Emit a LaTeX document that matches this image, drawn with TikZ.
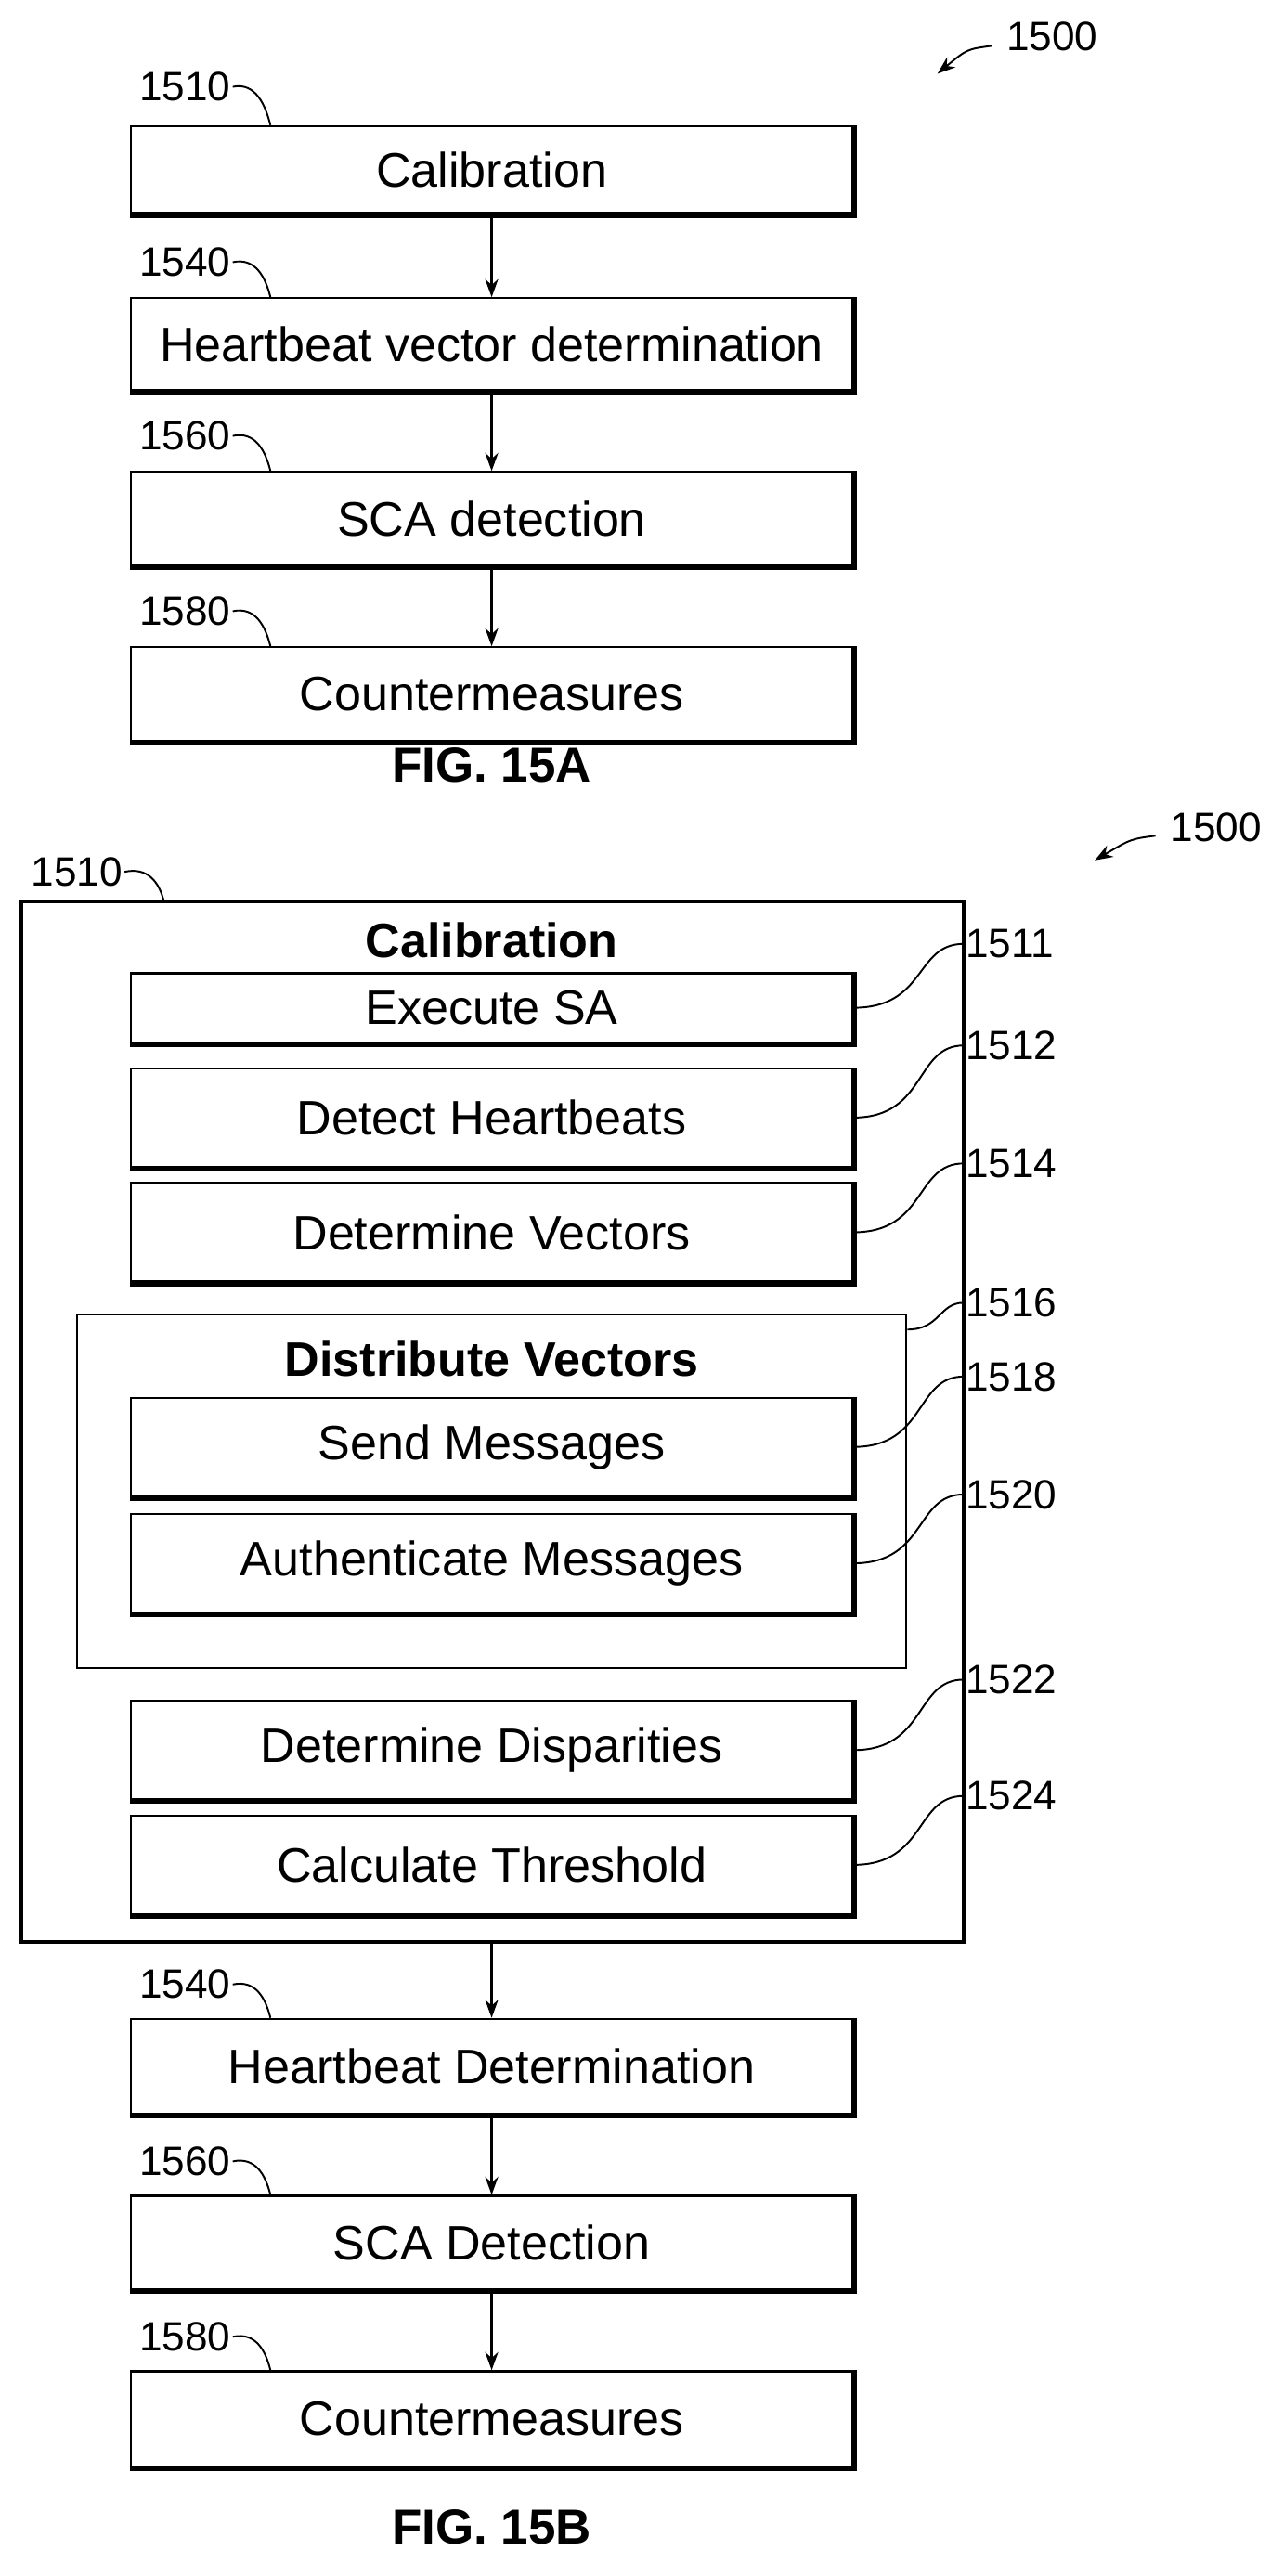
\documentclass[tikz,border=0pt]{standalone}
\usepackage{fontspec}
\setmainfont{Liberation Sans}
\usetikzlibrary{arrows.meta}
\begin{document}
\begin{tikzpicture}[x=1pt,y=-1pt,
  box/.style={draw,line width=1.3pt,minimum width=440pt,inner sep=0pt,font=\fontsize{29.5}{34}\selectfont},
  lbl/.style={font=\fontsize{25}{30}\selectfont,inner sep=1pt},
  lead/.style={line width=1.1pt},
  arr/.style={line width=1.3pt,-{Stealth[length=11pt,width=8pt]}},
  fig/.style={font=\bfseries\fontsize{30}{35}\selectfont}]
\useasboundingbox (0,0) rectangle (783,1572);
\newcommand{\shd}[1]{\draw[line width=2.6pt] ([xshift=1pt]#1.north east)--([xshift=1pt,yshift=-1pt]#1.south east)--([yshift=-1pt]#1.south west);}
% ---------- FIG 15A ----------
\node[lbl] (r1500a) at (642,22) {1500};
\coordinate (a1500a) at (572,45);
\draw[arr,line width=1.1pt] (605,28) .. controls (590,30) .. (a1500a);
\node[box,minimum height=53pt] (A1) at (300,103.5) {Calibration};
\node[box,minimum height=56pt] (A2) at (300,210) {Heartbeat vector determination};
\node[box,minimum height=57pt] (A3) at (300,316.5) {SCA detection};
\node[box,minimum height=57pt] (A4) at (300,423.5) {Countermeasures};
\foreach \n in {A1,A2,A3,A4}{\shd{\n}}
\draw[arr] (A1.south)--(A2.north);
\draw[arr] (A2.south)--(A3.north);
\draw[arr] (A3.south)--(A4.north);
\foreach \t/\n/\y in {1510/A1/53,1540/A2/160,1560/A3/266,1580/A4/373}{
  \node[lbl,anchor=east] (l\t a) at (142,\y) {\t};
  \draw[lead] (l\t a.east) .. controls +(14,-3) and +(-3,-12) .. ([xshift=-135pt]\n.north);
}
\node[fig] (figa) at (300,467) {FIG. 15A};
% ---------- FIG 15B ----------
\node[lbl] (r1500b) at (742,505) {1500};
\coordinate (a1500b) at (668,525);
\draw[arr,line width=1.1pt] (705,510) .. controls (690,512) .. (a1500b);
\node[draw,line width=2.4pt,minimum width=575pt,minimum height=635pt,inner sep=0pt] (outer) at (300.5,867.5) {};
\node[lbl,anchor=east] (l1510b) at (76,532) {1510};
\draw[lead] (l1510b.east) .. controls +(14,-3) and +(-3,-12) .. (100,550);
\node[font=\bfseries\fontsize{29.5}{34}\selectfont] (tcal) at (300,574) {Calibration};
\node[box,minimum height=42pt] (B1) at (300,615) {Execute SA};
\node[box,minimum height=60pt] (B2) at (300,682) {Detect Heartbeats};
\node[box,minimum height=60pt] (B3) at (300,752) {Determine Vectors};
\node[draw,line width=1.3pt,minimum width=506pt,minimum height=216pt,inner sep=0pt] (dist) at (300,910) {};
\node[font=\bfseries\fontsize{29.5}{34}\selectfont] (tdist) at (300,829) {Distribute Vectors};
\node[box,minimum height=60pt] (B4) at (300,883) {Send Messages};
\node[box,minimum height=60pt] (B5) at (300,954) {Authenticate Messages};
\node[box,minimum height=60pt] (B6) at (300,1068) {Determine Disparities};
\node[box,minimum height=60pt] (B7) at (300,1138) {Calculate Threshold};
\node[box,minimum height=58pt] (C1) at (300,1261) {Heartbeat Determination};
\node[box,minimum height=57pt] (C2) at (300,1368.5) {SCA Detection};
\node[box,minimum height=58pt] (C3) at (300,1476) {Countermeasures};
\foreach \n in {B1,B2,B3,B4,B5,B6,B7,C1,C2,C3}{\shd{\n}}
\draw[arr] (outer.south -| C1.north)--(C1.north);
\draw[arr] (C1.south)--(C2.north);
\draw[arr] (C2.south)--(C3.north);
\foreach \t/\n/\y in {1540/C1/1211,1560/C2/1319,1580/C3/1426}{
  \node[lbl,anchor=east] (l\t b) at (142,\y) {\t};
  \draw[lead] (l\t b.east) .. controls +(14,-3) and +(-3,-12) .. ([xshift=-135pt]\n.north);
}
\foreach \t/\n/\y in {1511/B1/576,1512/B2/638,1514/B3/710,1518/B4/840,1520/B5/912,1522/B6/1025,1524/B7/1096}{
  \node[lbl,anchor=west] (l\t) at (588,\y) {\t};
  \draw[lead] (\n.east) .. controls +(45,0) and +(-30,0) .. (l\t.west);
}
\node[lbl,anchor=west] (l1516) at (588,795) {1516};
\draw[lead] ([yshift=-10pt]dist.north east) .. controls +(20,0) and +(-15,0) .. (l1516.west);
\node[fig] (figb) at (300,1542) {FIG. 15B};
\end{tikzpicture}
\end{document}
